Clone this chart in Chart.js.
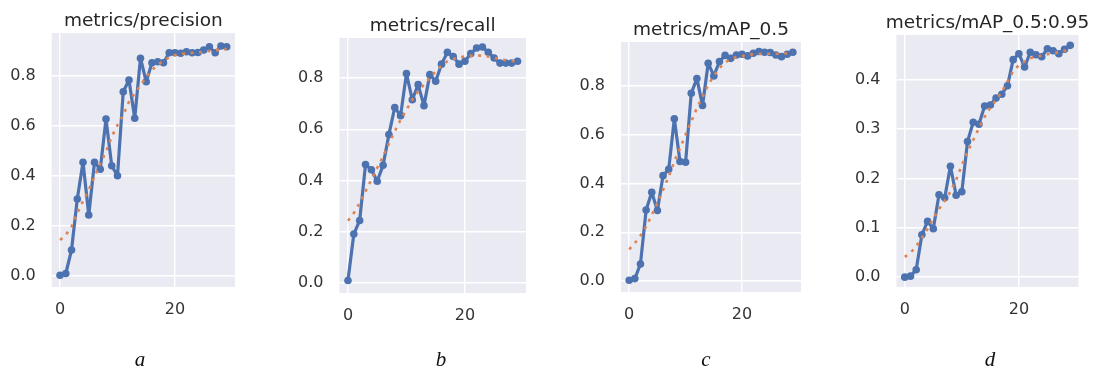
<!DOCTYPE html>
<html>
<head>
<meta charset="utf-8">
<script src="https://cdn.jsdelivr.net/npm/chart.js@4"></script>
<style>
  body { margin: 0; background: #fff; }
  #wrap { position: relative; width: 1098px; height: 374px; overflow: hidden; }
  canvas { position: absolute; left: 0; top: 0; }
  .title { position: absolute; font-family: "DejaVu Sans"; font-size: 18.5px; color: #262626; transform: translate(-50%, -50%); white-space: nowrap; }
  .sub { position: absolute; font-family: "Liberation Serif"; font-style: italic; font-size: 21px; color: #111; transform: translate(-50%, -50%); }
</style>
</head>
<body>
<div id="wrap"></div>
<script>
const epochs = [0, 1, 2, 3, 4, 5, 6, 7, 8, 9, 10, 11, 12, 13, 14, 15, 16, 17, 18, 19, 20, 21, 22, 23, 24, 25, 26, 27, 28, 29];

const titles = ["metrics/precision", "metrics/recall", "metrics/mAP_0.5", "metrics/mAP_0.5:0.95"];
const subLabels = ["a", "b", "c", "d"];

const precision = [0.003, 0.01, 0.104, 0.308, 0.455, 0.244, 0.455, 0.427, 0.628, 0.441, 0.401, 0.737, 0.784, 0.631, 0.871, 0.777, 0.853, 0.857, 0.853, 0.893, 0.893, 0.891, 0.897, 0.893, 0.894, 0.904, 0.917, 0.893, 0.92, 0.917];
const precisionSmooth = [0.144, 0.164, 0.197, 0.25, 0.30, 0.344, 0.397, 0.45, 0.497, 0.557, 0.604, 0.644, 0.697, 0.73, 0.764, 0.795, 0.824, 0.844, 0.861, 0.875, 0.884, 0.888, 0.89, 0.893, 0.894, 0.897, 0.9, 0.903, 0.907, 0.908];

const recall = [0.01, 0.191, 0.244, 0.462, 0.442, 0.397, 0.459, 0.579, 0.685, 0.653, 0.817, 0.715, 0.774, 0.692, 0.813, 0.787, 0.854, 0.9, 0.884, 0.854, 0.865, 0.895, 0.917, 0.921, 0.9, 0.878, 0.858, 0.858, 0.858, 0.865];
const recallSmooth = [0.243, 0.273, 0.312, 0.358, 0.403, 0.449, 0.494, 0.544, 0.592, 0.637, 0.676, 0.715, 0.748, 0.774, 0.8, 0.826, 0.848, 0.865, 0.874, 0.88, 0.884, 0.887, 0.888, 0.887, 0.884, 0.878, 0.874, 0.869, 0.866, 0.865];

const map50 = [0.003, 0.01, 0.07, 0.291, 0.364, 0.289, 0.432, 0.458, 0.665, 0.49, 0.487, 0.77, 0.83, 0.72, 0.893, 0.841, 0.9, 0.925, 0.913, 0.927, 0.93, 0.923, 0.934, 0.941, 0.938, 0.937, 0.927, 0.92, 0.93, 0.938];
const map50Smooth = [0.13, 0.155, 0.186, 0.223, 0.271, 0.319, 0.373, 0.428, 0.49, 0.544, 0.6, 0.654, 0.709, 0.756, 0.804, 0.841, 0.873, 0.896, 0.91, 0.918, 0.923, 0.927, 0.93, 0.931, 0.932, 0.932, 0.932, 0.932, 0.934, 0.937];

const map5095 = [0.0, 0.002, 0.015, 0.086, 0.113, 0.098, 0.167, 0.161, 0.225, 0.166, 0.173, 0.275, 0.314, 0.31, 0.347, 0.349, 0.363, 0.371, 0.388, 0.441, 0.453, 0.426, 0.456, 0.451, 0.447, 0.463, 0.459, 0.453, 0.462, 0.47];
const map5095Smooth = [0.041, 0.049, 0.063, 0.08, 0.098, 0.119, 0.138, 0.155, 0.173, 0.197, 0.227, 0.254, 0.278, 0.302, 0.325, 0.344, 0.359, 0.376, 0.397, 0.417, 0.43, 0.437, 0.444, 0.447, 0.449, 0.452, 0.454, 0.456, 0.459, 0.461];

const xTicks = [0, 20];
const yTicksMain = [0, 0.2, 0.4, 0.6, 0.8];
const yTicksLow = [0, 0.1, 0.2, 0.3, 0.4];

const series = [precision, recall, map50, map5095];
const smooth = [precisionSmooth, recallSmooth, map50Smooth, map5095Smooth];
const yTickSets = [yTicksMain, yTicksMain, yTicksMain, yTicksLow];

// plot area of each panel in page pixels, plus its y limits
const boxes = [
    { left: 51.7, right: 235, top: 33, bottom: 287, yMin: -0.044, yMax: 0.972 },
    { left: 339.5, right: 526, top: 38, bottom: 293, yMin: -0.039, yMax: 0.956 },
    { left: 621, right: 801, top: 42, bottom: 292, yMin: -0.045, yMax: 0.98 },
    { left: 896.5, right: 1078.5, top: 35, bottom: 287, yMin: -0.02, yMax: 0.491 }
];
const subX = [140, 441, 706, 990];

const W = 1098, H = 374;
const YW = 50, XH = 40;
const BLUE = "#4c72b0";
const ORANGE = "#dd8452";
const TICK_FONT = { family: "DejaVu Sans", size: 16 };

const plotBackground = {
    id: "plotBackground",
    beforeDraw(chart) {
        const a = chart.chartArea;
        const ctx = chart.ctx;
        ctx.save();
        ctx.fillStyle = "#eaeaf2";
        ctx.fillRect(a.left, a.top, a.right - a.left, a.bottom - a.top);
        ctx.restore();
    }
};

function points(values) {
    return epochs.map((e, i) => ({ x: e, y: values[i] }));
}

function renderPanel(i) {
    const wrap = document.getElementById("wrap");
    const box = boxes[i];
    const canvas = document.createElement("canvas");
    canvas.width = W;
    canvas.height = H;
    wrap.appendChild(canvas);

    const title = document.createElement("div");
    title.className = "title";
    title.textContent = titles[i];
    title.style.left = ((box.left + box.right) / 2) + "px";
    title.style.top = (box.top - 14) + "px";
    wrap.appendChild(title);

    const sub = document.createElement("div");
    sub.className = "sub";
    sub.textContent = subLabels[i];
    sub.style.left = subX[i] + "px";
    sub.style.top = "359px";
    wrap.appendChild(sub);

    new Chart(canvas.getContext("2d"), {
        type: "line",
        data: {
            datasets: [{
                data: points(smooth[i]),
                borderColor: ORANGE,
                borderWidth: 2.6,
                borderDash: [3, 5.5],
                pointRadius: 0,
                order: 0
            }, {
                data: points(series[i]),
                borderColor: BLUE,
                backgroundColor: BLUE,
                borderWidth: 3.2,
                borderJoinStyle: "round",
                pointRadius: 3.8,
                pointBorderWidth: 0,
                order: 1
            }]
        },
        options: {
            responsive: false,
            animation: false,
            layout: {
                padding: {
                    left: box.left - YW,
                    top: box.top,
                    right: W - box.right,
                    bottom: H - box.bottom - XH
                }
            },
            plugins: {
                legend: { display: false },
                tooltip: { enabled: false }
            },
            scales: {
                x: {
                    type: "linear",
                    min: -1.45,
                    max: 30.45,
                    afterBuildTicks: s => { s.ticks = xTicks.map(v => ({ value: v })); },
                    afterFit: s => { s.height = XH; },
                    grid: { color: "#ffffff", lineWidth: 1.4, drawTicks: false },
                    border: { display: false },
                    ticks: { font: TICK_FONT, color: "#333333", padding: 13, maxRotation: 0, callback: v => String(v) }
                },
                y: {
                    min: box.yMin,
                    max: box.yMax,
                    afterBuildTicks: s => { s.ticks = yTickSets[i].map(v => ({ value: v })); },
                    afterFit: s => { s.width = YW; },
                    grid: { color: "#ffffff", lineWidth: 1.4, drawTicks: false },
                    border: { display: false },
                    ticks: { font: TICK_FONT, color: "#333333", padding: 16, callback: v => v.toFixed(1) }
                }
            }
        },
        plugins: [plotBackground]
    });
}

for (let i = 0; i < 4; i++) {
    renderPanel(i);
}
</script>
</body>
</html>
